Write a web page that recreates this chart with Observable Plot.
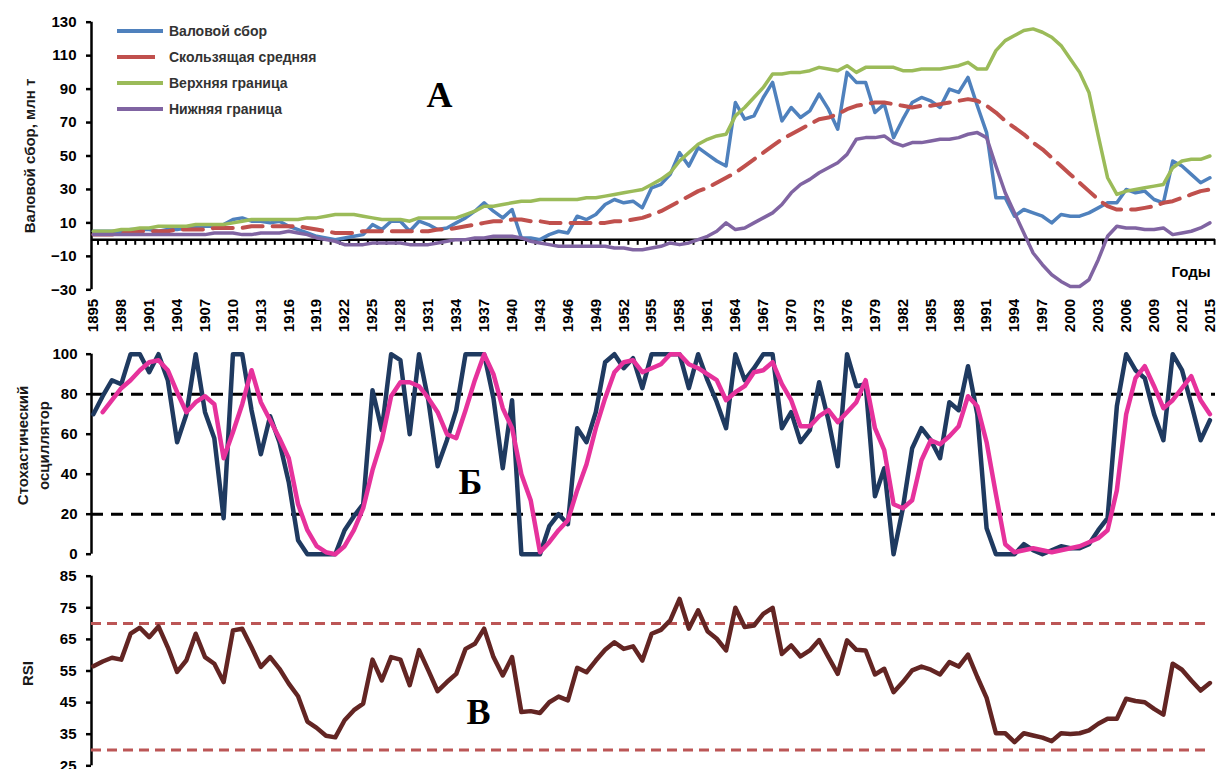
<!DOCTYPE html>
<html><head><meta charset="utf-8">
<script src="https://cdn.jsdelivr.net/npm/d3@7"></script>
<script src="https://cdn.jsdelivr.net/npm/@observablehq/plot@0.6"></script>
<style>
body{margin:0;background:#fff;}
#wrap{position:relative;width:1218px;height:769px;overflow:hidden;font-family:"Liberation Sans",Arial,sans-serif;background:#fff;}
.panel{position:absolute;left:0;}
#legend{position:absolute;left:117px;top:18px;}
.lg{display:flex;align-items:center;height:26px;font-weight:bold;font-size:14px;color:#333;white-space:nowrap;}
.lg svg{margin-right:3px;}
</style></head><body>
<div id="wrap">
<div id="pA" class="panel" style="top:0"></div>
<div id="pB" class="panel" style="top:340px"></div>
<div id="pC" class="panel" style="top:565px"></div>
<div id="legend"></div>
</div>
<script>
// ---------- DATA ----------
const years = d3.range(1895, 2016);
const yearTicks = d3.range(1895, 2016, 3);
const minorTicks = d3.range(1895.5, 2016, 1);

const grossHarvest = [
 5,5,5,5,6,6,6,5,6,6,
 7,8,8,8,9,12,13,11,11,10,
 11,8,6,4,2,1,0,1,2,3,
 9,6,11,11,5,11,9,6,7,10,
 13,17,22,17,13,18,1,1,0,3,
 5,4,14,12,15,21,24,22,23,19,
 31,33,39,52,44,55,51,47,44,82,
 72,74,85,94,71,79,73,77,87,78,
 66,100,94,94,76,81,61,72,82,85,
 83,79,90,88,97,80,64,25,25,14,
 18,16,14,10,15,14,14,16,19,22,
 22,30,28,29,24,22,47,44,39,34,
 37];
const movingAvg = [
 3,3,3,4,4,5,5,5,5,6,
 6,6,6,7,7,7,7,8,8,8,
 8,8,8,7,6,5,4,4,4,5,
 5,5,5,5,5,5,5,6,6,7,
 8,9,10,11,11,12,12,11,11,10,
 10,10,10,10,10,10,11,11,12,13,
 15,17,20,23,26,29,31,34,37,40,
 44,48,52,56,60,63,66,69,72,73,
 75,78,80,81,82,82,81,80,79,80,
 80,81,82,83,84,83,80,76,71,67,
 63,58,54,49,44,39,34,29,24,20,
 18,18,18,19,20,22,23,25,27,29,
 30];
const upperBand = [
 5,5,5,6,6,7,7,8,8,8,
 8,9,9,9,9,10,11,12,12,12,
 12,12,12,13,13,14,15,15,15,14,
 13,12,12,12,11,13,13,13,13,13,
 15,17,20,20,21,22,23,23,24,24,
 24,24,24,25,25,26,27,28,29,30,
 33,36,40,47,52,57,60,62,63,74,
 79,85,91,99,99,100,100,101,103,102,
 101,104,100,103,103,103,103,101,101,102,
 102,102,103,104,106,102,102,113,119,122,
 125,126,124,121,116,108,100,88,62,37,
 27,29,30,31,32,33,43,47,48,48,
 50];
const lowerBand = [
 3,3,3,3,3,3,3,3,3,3,
 3,3,3,4,4,4,3,3,4,4,
 4,5,4,3,1,0,-1,-3,-3,-3,
 -2,-2,-2,-2,-3,-3,-3,-2,-1,0,
 0,1,1,2,2,2,1,-1,-2,-3,
 -4,-4,-4,-4,-4,-4,-5,-5,-6,-6,
 -5,-4,-2,-3,-2,0,2,5,10,6,
 7,10,13,16,21,28,33,36,40,43,
 46,51,60,61,61,62,58,56,58,58,
 59,60,60,61,63,64,61,44,28,16,
 4,-8,-15,-21,-25,-28,-28,-24,-12,2,
 8,7,7,6,6,7,3,4,5,7,
 10];
const stochK = [
 70,79,87,85,100,100,91,100,87,56,
 70,100,71,58,18,100,100,72,50,69,
 56,36,7,0,0,0,0,12,19,25,
 82,62,100,97,60,100,77,44,57,72,
 100,100,100,78,43,77,0,0,0,14,
 20,15,63,56,71,96,100,93,98,83,
 100,100,100,100,83,100,87,76,63,100,
 87,93,100,100,63,71,56,62,86,67,
 44,100,84,85,29,43,0,23,53,63,
 57,48,76,72,94,70,13,0,0,0,
 5,2,0,2,4,3,3,5,12,18,
 74,100,92,88,70,57,100,92,75,57,
 67];
const stochD = [
 null,71,77,83,87,92,96,97,92,81,
 71,76,79,75,48,61,75,92,76,67,
 58,48,25,12,4,1,0,4,12,23,
 42,57,79,86,86,84,78,71,60,58,
 72,87,100,90,73,63,40,27,1,6,
 12,17,32,45,63,78,91,96,97,91,
 93,95,100,100,95,93,90,87,77,81,
 84,91,92,96,85,77,64,64,69,72,
 66,71,76,87,63,52,25,23,27,47,
 57,55,59,64,79,74,56,30,5,1,
 2,3,2,1,2,3,4,6,8,12,
 32,70,88,94,84,73,77,83,89,77,
 70];
const rsi = [
 56.5,58,59.2,58.6,66.8,68.7,65.7,69.1,62.5,54.7,
 58.4,66.8,59.4,57.3,51.5,67.8,68.4,62.5,56.3,59.4,
 55.7,51,47,39,37,34.5,34,39.4,42.6,44.7,
 58.6,52,59.4,58.6,50.5,61.6,55.2,48.6,51.5,54.1,
 62,63.6,68.4,59.4,53.6,59.4,42,42.3,41.7,45.1,
 46.9,45.7,56,54.6,58.3,61.7,64.1,62,62.8,58.3,
 66.8,68,71,77.8,68.4,74.2,67.6,65.2,61.5,75,
 68.9,69.4,73.1,75,60.4,63.1,59.6,61.5,64.8,59.4,
 54.1,64.7,61.7,61.5,53.9,55.7,48.3,51.5,55.2,56.4,
 55.4,53.9,57.8,56.4,60.2,53.1,46.5,35.3,35.3,32.5,
 35.3,34.6,33.9,32.8,35.3,35.1,35.3,36.2,38.3,39.9,
 39.9,46.2,45.5,45.1,43,41.2,57.3,55.4,52,48.8,
 51.2];

const ticksA = [-30,-10,10,30,50,70,90,110,130];
const ticksB = [0,20,40,60,80,100];
const ticksC = [25,35,45,55,65,75,85];
const stochLevels = [80,20];
const rsiLevels = [70,30];

const seriesA = [
  {key:"gross", name:"Валовой сбор", color:"#4F81BD", dash:null},
  {key:"ma", name:"Скользящая средняя", color:"#C0504D", dash:"20,10"},
  {key:"upper", name:"Верхняя граница", color:"#9BBB59", dash:null},
  {key:"lower", name:"Нижняя граница", color:"#8064A2", dash:null}
];

// ---------- TABLES ----------
const rowsA = years.map((year,i)=>({year, gross:grossHarvest[i], ma:movingAvg[i], upper:upperBand[i], lower:lowerBand[i]}));
const rowsB = years.map((year,i)=>({year, k:stochK[i], d:stochD[i]}));
const rowsC = years.map((year,i)=>({year, rsi:rsi[i]}));

const xDomain = [1894.8, 2015.6];
const baseStyle = {fontFamily:"'Liberation Sans', Arial, sans-serif", fontSize:"15px", fontWeight:"bold", color:"#000", background:"transparent", overflow:"visible"};
const common = {width:1218, marginLeft:91, marginRight:3, style: baseStyle};
const titleFont = {fontSize:15, fontWeight:"bold", fill:"#1a1a1a", textAnchor:"middle", lineAnchor:"middle"};
const letterFont = {fontSize:36, fontWeight:"bold", fontFamily:"'Liberation Serif', 'Times New Roman', serif", fill:"#000"};

// ---------- PANEL A ----------
const plotA = Plot.plot({
  ...common,
  height:340, marginTop:21.7, marginBottom:50.7,
  x:{domain:xDomain},
  y:{domain:[-30,130]},
  marks:[
    Plot.axisY({ticks:ticksA, tickSize:5, tickPadding:10, strokeWidth:2.5, label:null}),
    Plot.ruleX([xDomain[0]], {y1:-30, y2:130, strokeWidth:2.5}),
    Plot.axisX({ticks:yearTicks, tickSize:0, tickPadding:9, tickRotate:-90, tickFormat:d=>String(d), label:null}),
    Plot.ruleY([0], {strokeWidth:2.5}),
    Plot.ruleX(minorTicks, {y1:0, y2:-3.4, strokeWidth:2}),
    ...seriesA.map(s => Plot.line(rowsA, {x:"year", y:s.key, stroke:s.color, strokeWidth:s.dash?4:3.5, strokeDasharray:s.dash, strokeLinejoin:"round"})),
    Plot.text(["Валовой сбор, млн т"], {frameAnchor:"left", rotate:-90, dx:-61, dy:0, ...titleFont}),
    Plot.text(["Годы"], {frameAnchor:"bottom-right", textAnchor:"end", lineAnchor:"bottom", dx:-5, dy:-13, fontSize:15, fontWeight:"bold"}),
    Plot.text(["А"], {frameAnchor:"top-left", textAnchor:"middle", lineAnchor:"middle", dx:348, dy:73, ...letterFont})
  ]
});
document.getElementById("pA").appendChild(plotA);

// ---------- PANEL B ----------
const plotB = Plot.plot({
  ...common,
  height:225, marginTop:13.7, marginBottom:11.3,
  x:{domain:xDomain, axis:null},
  y:{domain:[0,100]},
  marks:[
    Plot.axisY({ticks:ticksB, tickSize:5, tickPadding:9, strokeWidth:2.5, label:null}),
    Plot.ruleX([xDomain[0]], {y1:0, y2:100, strokeWidth:2.5}),
    Plot.ruleY(stochLevels, {stroke:"#000", strokeWidth:3, strokeDasharray:"12,8"}),
    Plot.line(rowsB, {x:"year", y:"k", stroke:"#1F3A60", strokeWidth:4.5, strokeLinejoin:"round"}),
    Plot.line(rowsB, {x:"year", y:"d", stroke:"#E6329C", strokeWidth:4.5, strokeLinejoin:"round"}),
    Plot.text(["Стохастический\nосциллятор"], {frameAnchor:"left", rotate:-90, dx:-60, dy:-8.7, lineHeight:1.45, ...titleFont}),
    Plot.text(["Б"], {frameAnchor:"top-left", textAnchor:"middle", lineAnchor:"middle", dx:379, dy:128, ...letterFont})
  ]
});
document.getElementById("pB").appendChild(plotB);

// ---------- PANEL C ----------
const plotC = Plot.plot({
  ...common,
  height:204, marginTop:10.7, marginBottom:3.7,
  x:{domain:xDomain, axis:null},
  y:{domain:[25,85]},
  marks:[
    Plot.axisY({ticks:ticksC, tickSize:5, tickPadding:10, strokeWidth:2.5, label:null}),
    Plot.ruleX([xDomain[0]], {y1:25, y2:85, strokeWidth:2.5}),
    Plot.ruleY(rsiLevels, {x1:xDomain[0], x2:2014.7, stroke:"#BC5656", strokeWidth:3, strokeDasharray:"10,6"}),
    Plot.line(rowsC, {x:"year", y:"rsi", stroke:"#632523", strokeWidth:4.5, strokeLinejoin:"round"}),
    Plot.text(["RSI"], {frameAnchor:"left", rotate:-90, dx:-63, dy:2.5, ...titleFont}),
    Plot.text(["В"], {frameAnchor:"top-left", textAnchor:"middle", lineAnchor:"middle", dx:387, dy:136, ...letterFont})
  ]
});
document.getElementById("pC").appendChild(plotC);

// ---------- LEGEND (panel A) ----------
const legend = document.getElementById("legend");
seriesA.forEach(s => {
  const row = document.createElement("div");
  row.className = "lg";
  row.innerHTML = `<svg width="49" height="10"><line x1="0" y1="5" x2="46" y2="5" stroke="${s.color}" stroke-width="4" ${s.dash ? 'stroke-dasharray="38,10"' : ''}/></svg><span>${s.name}</span>`;
  legend.appendChild(row);
});
</script>
</body></html>
